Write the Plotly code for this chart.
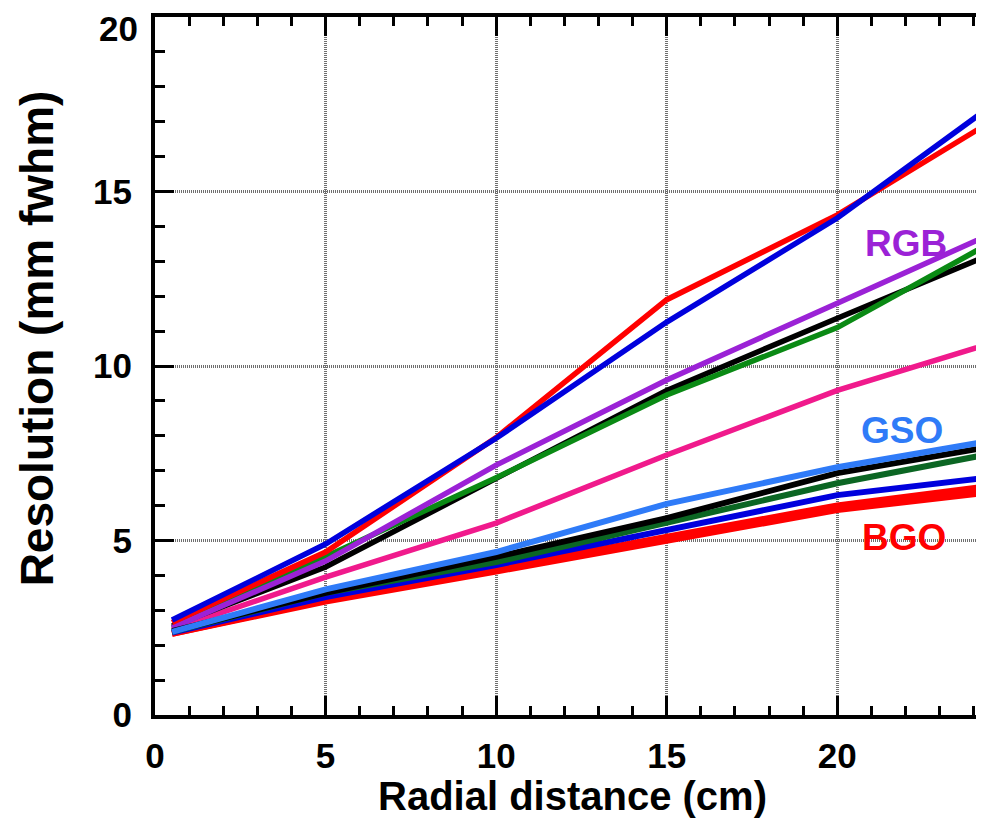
import plotly.graph_objects as go

# Radial distance (cm) sample positions
radial_cm = [0.5, 5, 10, 15, 20, 25]

# Upper group of curves (mm fwhm)
blue_upper = [2.72, 4.9, 7.93, 11.26, 14.24, 17.8]
red_upper = [2.65, 4.67, 7.95, 11.9, 14.33, 17.3]
purple_rgb = [2.5, 4.41, 7.16, 9.6, 11.8, 14.0]
green_upper = [2.5, 4.53, 6.8, 9.17, 11.1, 13.8]
black_upper = [2.55, 4.24, 6.78, 9.3, 11.37, 13.4]
pink_mid = [2.45, 3.95, 5.5, 7.45, 9.3, 10.8]

# Lower group of curves (mm fwhm)
lightblue_gso = [2.38, 3.6, 4.67, 6.05, 7.1, 7.94]
black_lower = [2.4, 3.5, 4.53, 5.64, 6.93, 7.77]
darkgreen_lower = [2.38, 3.5, 4.38, 5.53, 6.64, 7.58]
blue_lower = [2.36, 3.38, 4.3, 5.3, 6.3, 6.87]
red_bgo_a = [2.33, 3.3, 4.2, 5.1, 6.0, 6.62]
red_bgo_b = [2.33, 3.26, 4.12, 5.02, 5.88, 6.45]

# Text labels
label_text = ["RGB", "GSO", "BGO"]
label_x = [22.0, 21.9, 21.95]
label_y = [13.5, 8.15, 5.1]

x_ticks = [0, 5, 10, 15, 20]
y_ticks = [0, 5, 10, 15, 20]

BLUE = "#0000DD"
RED = "#FF0000"
PURPLE = "#9B22D6"
GREEN = "#0A8A14"
DKGREEN = "#0B6623"
PINK = "#F01A8C"
LTBLUE = "#2F7BF8"
BLACK = "#000000"

series = [
    (pink_mid, PINK, 5.5),
    (black_upper, BLACK, 5.5),
    (green_upper, GREEN, 5.5),
    (purple_rgb, PURPLE, 5.5),
    (red_upper, RED, 5.5),
    (blue_upper, BLUE, 5.5),
    (red_bgo_b, RED, 6.5),
    (red_bgo_a, RED, 6.5),
    (blue_lower, BLUE, 6),
    (darkgreen_lower, DKGREEN, 6),
    (black_lower, BLACK, 6),
    (lightblue_gso, LTBLUE, 6),
]

fig = go.Figure()
for vals, color, w in series:
    fig.add_trace(go.Scatter(x=radial_cm, y=vals, mode="lines",
                             line=dict(color=color, width=w),
                             showlegend=False, hoverinfo="skip"))

label_colors = [PURPLE, LTBLUE, RED]
for t, lx, ly, c in zip(label_text, label_x, label_y, label_colors):
    fig.add_annotation(x=lx, y=ly, text=t, showarrow=False,
                       font=dict(family="Liberation Sans, Arial", size=37,
                                 color=c, weight="bold"),
                       xanchor="center", yanchor="middle")

axis_font = dict(family="Liberation Sans, Arial", size=35, color="black", weight="bold")

common_x = dict(
    range=[0, 24.3], tickvals=x_ticks,
    ticks="inside", ticklen=19, tickwidth=3, tickcolor="black",
    minor=dict(dtick=1, tick0=0, ticks="inside", ticklen=9, tickwidth=3,
               tickcolor="black", showgrid=False),
    zeroline=False, automargin=False,
)

# the top y label ("20") is nudged down inside the page like the original
y_ticktext = [str(v) if v != y_ticks[-1] else "" for v in y_ticks]

fig.update_layout(
    xaxis=dict(
        **common_x,
        ticktext=[str(v) for v in x_ticks],
        showline=True, linecolor="black", linewidth=4,
        showgrid=True, gridcolor="#6f6f6f", gridwidth=3, griddash="1px,1px",
        tickfont=axis_font, ticklabelstandoff=7, ticklabeloverflow="allow",
    ),
    xaxis2=dict(
        **common_x,
        overlaying="x", side="top", matches="x", anchor="y",
        showline=True, linecolor="black", linewidth=4,
        showgrid=False, showticklabels=False,
    ),
    yaxis=dict(
        range=[0, 20], tickvals=y_ticks, ticktext=y_ticktext,
        showline=True, linecolor="black", linewidth=4,
        ticks="inside", ticklen=19, tickwidth=3, tickcolor="black",
        minor=dict(dtick=1, tick0=0, ticks="inside", ticklen=10, tickwidth=3,
                   tickcolor="black", showgrid=False),
        showgrid=True, gridcolor="#6f6f6f", gridwidth=3, griddash="1px,1px",
        zeroline=False, tickfont=axis_font, ticklabelstandoff=12,
        ticklabeloverflow="allow", automargin=False,
    ),
)

fig.add_annotation(xref="paper", yref="y", x=0, y=y_ticks[-1],
                   text=str(y_ticks[-1]), showarrow=False,
                   xanchor="right", yanchor="middle", xshift=-15, yshift=-11,
                   font=axis_font)

# invisible trace to activate the top axis
fig.add_trace(go.Scatter(x=[radial_cm[0]], y=[None], xaxis="x2", yaxis="y",
                         mode="lines", showlegend=False, hoverinfo="skip"))

fig.add_annotation(xref="paper", yref="paper", x=0.5035, y=-0.116,
                   text="Radial distance (cm)", showarrow=False,
                   xanchor="center", yanchor="middle",
                   font=dict(family="Liberation Sans, Arial", size=40,
                             color="black", weight="bold"))
fig.add_annotation(xref="paper", yref="paper", x=-0.142, y=0.54,
                   text="Resolution (mm fwhm)", showarrow=False, textangle=-90,
                   xanchor="center", yanchor="middle",
                   font=dict(family="Liberation Sans, Arial", size=46,
                             color="black", weight="bold"))

fig.update_layout(
    width=976, height=812,
    margin=dict(l=147, r=0, t=9, b=105, autoexpand=False),
    paper_bgcolor="white", plot_bgcolor="white",
)

fig.write_html("out.html")
